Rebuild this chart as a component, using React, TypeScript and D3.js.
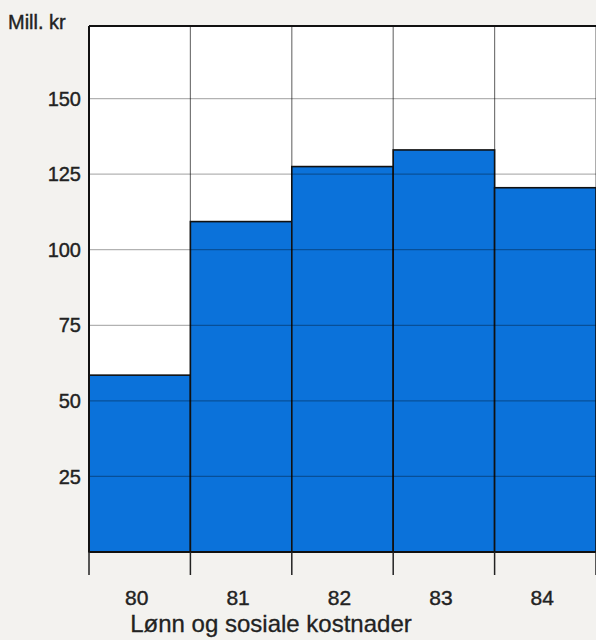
import * as d3 from 'd3'
import React from 'react'

const years = ['80', '81', '82', '83', '84']
const values = [58.5, 109.3, 127.5, 133, 120.5]
const yTicks = [25, 50, 75, 100, 125, 150]
const yLabel = 'Mill. kr'
const xTitle = 'Lønn og sosiale kostnader'

const W = 596
const H = 640
const margin = { top: 26, right: 0, bottom: 88, left: 89 }

const App = () => {
  const x = d3
    .scaleBand()
    .domain(years)
    .range([margin.left, W - margin.right])
    .padding(0)
  const y = d3
    .scaleLinear()
    .domain([0, 174])
    .range([H - margin.bottom, margin.top])

  const bw = x.bandwidth()
  const base = y(0)
  const edges = years.map((d) => x(d) as number).concat([W - margin.right])
  const font = 'Liberation Sans, Arial, sans-serif'
  const ink = '#222'

  return (
    <svg
      width={W}
      height={H}
      style={{ position: 'absolute', left: 0, top: 0, background: '#f3f2ef' }}
    >
      <rect x={margin.left} y={margin.top} width={W - margin.left} height={base - margin.top} fill="#fff" />
      {/* vertical grid */}
      {edges.slice(1).map((e, i) => (
        <line key={'v' + i} x1={e} x2={e} y1={margin.top} y2={base} stroke="#777" strokeWidth={1.2} />
      ))}
      {years.map((d, i) => (
        <rect
          key={d}
          x={x(d)}
          y={y(values[i])}
          width={bw}
          height={base - y(values[i])}
          fill="#0b72da"
          stroke="#111"
          strokeWidth={1.6}
        />
      ))}
      {/* horizontal grid */}
      {yTicks.map((t) => (
        <line
          key={'h' + t}
          x1={margin.left}
          x2={W}
          y1={y(t)}
          y2={y(t)}
          stroke="#000"
          strokeOpacity={0.3}
          strokeWidth={1.2}
        />
      ))}
      <line x1={margin.left} x2={W} y1={margin.top} y2={margin.top} stroke="#111" strokeWidth={2} />
      <line x1={margin.left} x2={margin.left} y1={margin.top} y2={base} stroke="#111" strokeWidth={2} />
      <line x1={margin.left} x2={W} y1={base} y2={base} stroke="#111" strokeWidth={2} />
      {edges.map((e, i) => (
        <line key={'t' + i} x1={e} x2={e} y1={base} y2={base + 23} stroke="#222" strokeWidth={1.5} />
      ))}
      {yTicks.map((t) => (
        <text
          key={'l' + t}
          x={81}
          y={y(t)}
          dy="0.36em"
          textAnchor="end"
          fontFamily={font}
          fontSize={20}
          fill={ink}
          stroke={ink}
          strokeWidth={0.4}
        >
          {t}
        </text>
      ))}
      <text x={8} y={29} fontFamily={font} fontSize={20} fill={ink} stroke={ink} strokeWidth={0.4}>
        {yLabel}
      </text>
      {years.map((d) => (
        <text
          key={'x' + d}
          x={(x(d) as number) + bw / 2 - 3}
          y={605}
          textAnchor="middle"
          fontFamily={font}
          fontSize={21}
          fill={ink}
          stroke={ink}
          strokeWidth={0.4}
        >
          {d}
        </text>
      ))}
      <text x={271} y={632} textAnchor="middle" fontFamily={font} fontSize={24} fill={ink} stroke={ink} strokeWidth={0.3}>
        {xTitle}
      </text>
    </svg>
  )
}

export default App
